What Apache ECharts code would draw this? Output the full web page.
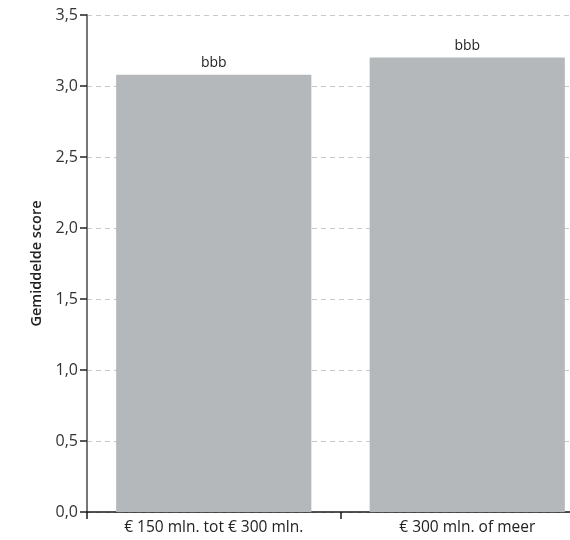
<!DOCTYPE html>
<html>
<head>
<meta charset="utf-8">
<script src="https://cdn.jsdelivr.net/npm/echarts@6/dist/echarts.min.js"></script>
<style>
  html, body { margin: 0; padding: 0; background: #fff; overflow: hidden; }
  #chart { width: 570px; height: 540px; }
</style>
</head>
<body>
<div id="chart"></div>
<script>
// Average score per turnover class
const categories = ['€ 150 mln. tot € 300 mln.', '€ 300 mln. of meer'];
const scores = [3.08, 3.2];
const barLabels = ['bbb', 'bbb'];
const yTicks = [0, 0.5, 1, 1.5, 2, 2.5, 3, 3.5];

const FONT = '"Open Sans", sans-serif';
const chart = echarts.init(document.getElementById('chart'), null, { renderer: 'canvas' });

chart.setOption({
  animation: false,
  // the plot runs on past the right edge of the canvas
  grid: { left: 87, width: 507, top: 15, bottom: 28, outerBoundsMode: 'none', containLabel: false },
  xAxis: {
    type: 'category',
    data: categories,
    axisLine: { show: true, lineStyle: { color: '#1a1a1a', width: 1.5 } },
    axisTick: { show: true, length: 7, lineStyle: { color: '#1a1a1a', width: 1.5 } },
    axisLabel: { color: '#222', fontFamily: FONT, fontSize: 15.5, margin: 8 },
    splitLine: { show: false }
  },
  yAxis: {
    type: 'value',
    min: yTicks[0],
    max: yTicks[yTicks.length - 1],
    interval: 0.5,
    name: 'Gemiddelde score',
    nameLocation: 'middle',
    nameGap: 40,
    nameTextStyle: { color: '#222', fontFamily: FONT, fontSize: 14.5, fontWeight: 600 },
    axisLine: { show: true, lineStyle: { color: '#777', width: 2 } },
    axisTick: { show: true, length: 7, lineStyle: { color: '#222', width: 1.5 } },
    axisLabel: {
      color: '#333', fontFamily: FONT, fontSize: 16, margin: 9,
      formatter: v => v.toFixed(1).replace('.', ',')
    },
    splitLine: { show: true, lineStyle: { color: '#c8c8c8', type: [5, 4], width: 1 } }
  },
  series: [{
    type: 'bar',
    data: scores,
    barWidth: '77%',
    itemStyle: { color: '#b4b8ba' },
    label: {
      show: true,
      position: 'top',
      distance: 5,
      color: '#222',
      fontFamily: FONT,
      fontSize: 14,
      formatter: p => barLabels[p.dataIndex]
    }
  }]
});
</script>
</body>
</html>
